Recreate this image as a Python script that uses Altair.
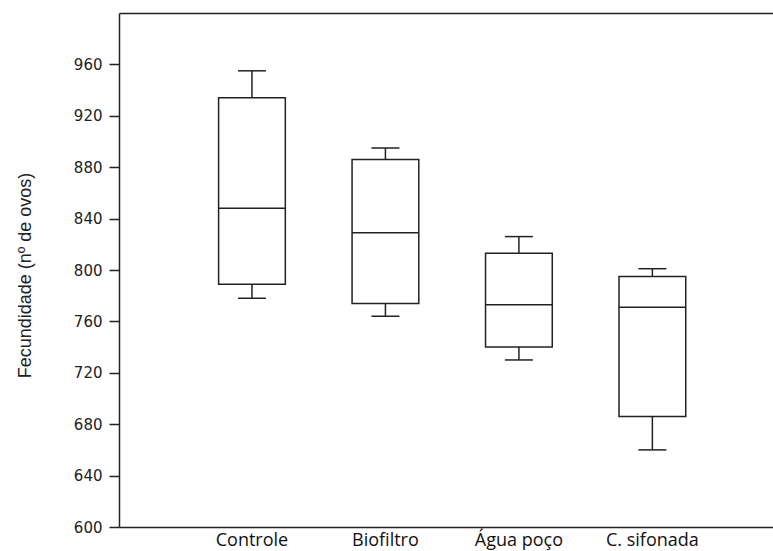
import altair as alt
import pandas as pd

categories = ["Controle", "Biofiltro", "Água poço", "C. sifonada"]
whisker_low = [778, 764, 730, 660]
q1 = [789, 774, 740, 686]
median = [848, 829, 773, 771]
q3 = [934, 886, 813, 795]
whisker_high = [955, 895, 826, 801]

df = pd.DataFrame({
    "grupo": categories,
    "min": whisker_low,
    "q1": q1,
    "med": median,
    "q3": q3,
    "max": whisker_high,
})

INK = "#222222"
W, H = 654, 514

xscale = alt.Scale(domain=categories, paddingInner=0.5, paddingOuter=0.7, align=0.533)
yscale = alt.Scale(domain=[600, 1000], nice=False, zero=False)

xaxis = alt.Axis(title=None, ticks=False, domain=True, domainColor=INK, domainWidth=1.5,
                 labelFont="Open Sans", labelFontSize=18, labelColor="#111111",
                 labelPadding=4, labelAngle=0)
top_axis = alt.Axis(orient="top", labels=False, ticks=False, title=None,
                    domain=True, domainColor=INK, domainWidth=1.5, grid=False)
yaxis = alt.Axis(title="Fecundidade (nº de ovos)", values=list(range(600, 1000, 40)),
                 grid=False, domainColor=INK, domainWidth=1.5,
                 tickColor=INK, tickWidth=1.5, tickSize=10,
                 labelFont="DejaVu Sans", labelFontSize=15, labelColor="#222222",
                 labelPadding=7,
                 titleFont="Liberation Sans", titleFontSize=18, titleFontWeight="normal",
                 titleColor="#222222", titleAngle=-90, titleAlign="center",
                 titleBaseline="middle", titleX=-94, titleY=H / 2 + 5)

base = alt.Chart(df)


def xe(axis):
    return alt.X("grupo:N", scale=xscale, sort=categories, axis=axis)


upper_whisker = base.mark_rule(color=INK, strokeWidth=1.5).encode(
    x=xe(xaxis),
    y=alt.Y("q3:Q", scale=yscale, axis=yaxis),
    y2="max:Q",
)
lower_whisker = base.mark_rule(color=INK, strokeWidth=1.5).encode(
    x=xe(None),
    y=alt.Y("min:Q", scale=yscale),
    y2="q1:Q",
)
box = base.mark_bar(fill="white", stroke=INK, strokeWidth=1.5).encode(
    x=xe(None),
    y=alt.Y("q1:Q", scale=yscale),
    y2="q3:Q",
)
med = base.mark_tick(color=INK, thickness=1.5, size=67, opacity=1).encode(
    x=xe(None),
    y=alt.Y("med:Q", scale=yscale),
)
cap_hi = base.mark_tick(color=INK, thickness=1.5, size=28, opacity=1).encode(
    x=xe(None),
    y=alt.Y("max:Q", scale=yscale),
)
cap_lo = base.mark_tick(color=INK, thickness=1.5, size=28, opacity=1).encode(
    x=xe(top_axis),
    y=alt.Y("min:Q", scale=yscale),
)

chart = alt.layer(upper_whisker, lower_whisker, box, med, cap_hi, cap_lo).resolve_axis(
    x="independent"
).properties(
    width=W, height=H,
    autosize=alt.AutoSizeParams(type="none"),
    padding={"left": 119, "top": 13, "right": 0, "bottom": 24},
    background="white",
).configure_view(stroke=None)

chart.save("out.html", embed_options={"renderer": "svg", "actions": False})
